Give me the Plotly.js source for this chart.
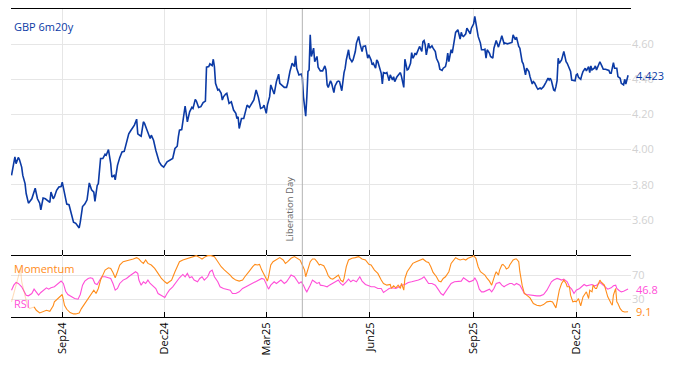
<!DOCTYPE html>
<html><head><meta charset="utf-8">
<script src="https://cdn.plot.ly/plotly-3.0.1.min.js"></script>
<style>html,body{margin:0;padding:0;background:#fff}#chart{width:674px;height:366px}</style>
</head><body><div id="chart"></div>
<script>
// Day offsets are counted from 2024-07-17
const START = Date.UTC(2024, 6, 17);
const toDate = d => new Date(START + d * 86400000).toISOString().slice(0, 10);

const seriesName = "GBP 6m20y";
const eventDate = "2025-04-02";
const eventLabel = "Liberation Day";

const mainDays = [
1,4,5,7,8,10,11,13,14,16,
19,22,24,26,27,29,31,33,35,36,
38,39,41,43,45,46,48,50,52,54,
56,58,61,62,64,66,68,70,72,74,
75,77,78,80,82,84,85,87,89,90,
92,93,95,97,99,101,103,105,107,110,
112,113,115,116,118,119,121,122,124,125,
127,129,130,132,134,136,139,141,144,146,
148,149,150,152,153,155,157,159,161,162,
164,165,167,169,171,173,174,176,177,179,
180,181,182,184,185,187,188,189,191,192,
194,196,198,200,201,202,203,205,207,208,
210,212,214,216,218,220,222,224,225,227,
228,230,231,233,234,236,238,239,241,243,
245,246,248,249,250,252,253,254,255,256,
258,259,260,261,262,263,264,265,266,267,
269,270,272,273,275,277,279,280,281,282,
284,285,286,287,288,290,291,292,294,295,
296,297,298,300,301,303,304,306,307,309,
310,312,313,315,316,317,318,320,321,322,
324,325,326,328,329,330,331,333,334,335,
336,337,339,340,341,343,344,346,347,348,
349,350,352,353,355,356,357,358,359,360,
362,363,365,366,367,368,369,371,372,373,
374,375,377,378,380,381,383,384,386,387,
388,389,391,392,393,394,395,397,398,399,
400,401,402,404,405,406,408,409,411,412,
413,414,415,417,418,420,421,422,423,425,
426,428,429,431,432,433,435,436,438,439,
441,443,445,446,448,449,450,451,452,454,
455,457,458,460,461,463,464,465,467,468,
470,471,473,474,475,477,478,479,480,482,
483,484,485,486,487,489,490,491,492,493,
494,496,497,498,499,501,502,503,504,506,
507,508,510,511,513,514,515,516,518,519,
520,522,523,525,526,528,529,531,532,533,
535,536,538,539,541,542,544,545,546,547,
548];
const mainVals = [
3.853,3.958,3.92,3.955,3.943,3.90,3.853,3.806,3.75,3.695,
3.72,3.78,3.72,3.695,3.657,3.724,3.72,3.707,3.70,3.758,
3.72,3.73,3.768,3.787,3.79,3.815,3.758,3.69,3.686,3.634,
3.587,3.58,3.554,3.587,3.676,3.69,3.714,3.81,3.771,3.758,
3.705,3.796,3.806,3.949,3.949,3.973,3.968,4.00,3.92,3.844,
3.853,3.828,3.91,3.954,3.987,3.99,4.034,4.09,4.11,4.139,
4.173,4.09,4.08,4.076,4.158,4.149,4.114,4.095,4.063,4.082,
4.053,3.996,3.977,3.93,3.91,3.90,3.93,3.939,3.949,4.006,
4.019,4.072,4.11,4.114,4.171,4.248,4.158,4.215,4.24,4.234,
4.286,4.276,4.24,4.244,4.267,4.276,4.469,4.472,4.488,4.478,
4.514,4.472,4.377,4.339,4.343,4.32,4.282,4.30,4.316,4.32,
4.263,4.272,4.225,4.206,4.177,4.187,4.12,4.177,4.177,4.209,
4.253,4.24,4.263,4.282,4.339,4.297,4.234,4.24,4.253,4.206,
4.253,4.301,4.368,4.324,4.316,4.387,4.429,4.377,4.368,4.354,
4.354,4.377,4.444,4.472,4.491,4.472,4.533,4.463,4.444,4.425,
4.43,4.411,4.30,4.24,4.19,4.30,4.444,4.453,4.653,4.53,
4.577,4.50,4.53,4.469,4.448,4.448,4.476,4.453,4.368,4.354,
4.392,4.377,4.343,4.324,4.362,4.387,4.39,4.387,4.335,4.396,
4.438,4.463,4.51,4.568,4.52,4.50,4.51,4.558,4.606,4.644,
4.606,4.558,4.587,4.59,4.549,4.52,4.539,4.51,4.482,4.491,
4.463,4.51,4.50,4.463,4.434,4.373,4.438,4.434,4.438,4.415,
4.392,4.425,4.396,4.415,4.387,4.415,4.425,4.438,4.415,4.387,
4.354,4.514,4.453,4.457,4.491,4.552,4.52,4.53,4.549,4.539,
4.571,4.587,4.558,4.615,4.621,4.596,4.539,4.606,4.577,4.587,
4.59,4.577,4.558,4.52,4.491,4.457,4.45,4.463,4.472,4.50,
4.549,4.50,4.568,4.549,4.587,4.625,4.667,4.682,4.659,4.629,
4.667,4.648,4.644,4.659,4.691,4.678,4.659,4.691,4.716,4.758,
4.71,4.667,4.644,4.606,4.568,4.568,4.571,4.52,4.568,4.549,
4.53,4.52,4.577,4.621,4.602,4.583,4.625,4.648,4.602,4.606,
4.602,4.606,4.61,4.653,4.625,4.64,4.606,4.587,4.577,4.50,
4.488,4.425,4.463,4.444,4.415,4.373,4.387,4.381,4.354,4.343,
4.35,4.345,4.358,4.373,4.381,4.406,4.396,4.406,4.392,4.339,
4.335,4.358,4.392,4.52,4.491,4.51,4.533,4.558,4.53,4.50,
4.491,4.463,4.444,4.396,4.396,4.392,4.425,4.43,4.411,4.40,
4.425,4.444,4.463,4.448,4.472,4.438,4.476,4.453,4.463,4.476,
4.453,4.488,4.50,4.472,4.457,4.457,4.453,4.45,4.434,4.434,
4.495,4.463,4.463,4.415,4.406,4.377,4.368,4.40,4.373,4.406,
4.423];

const momDays = [
1,4,7,9,10,13,15,17,20,21,
23,26,29,32,35,38,39,42,45,46,
48,50,53,56,58,61,63,66,69,72,
74,76,78,80,82,84,87,89,91,93,
95,97,100,103,106,109,112,114,116,118,
120,122,125,128,131,134,137,139,141,143,
146,148,150,153,156,159,162,165,168,170,
173,175,178,181,183,185,187,190,192,195,
197,200,203,206,208,210,212,215,217,219,
221,223,226,228,229,231,233,236,239,242,
244,246,249,252,255,257,259,261,262,264,
266,268,270,272,274,275,278,280,282,284,
286,289,291,293,295,296,298,300,303,306,
309,312,315,318,320,323,326,329,331,334,
337,338,340,342,344,346,347,349,350,352,
355,357,360,363,366,369,371,373,375,378,
380,382,384,386,389,391,393,395,397,399,
402,404,406,408,410,411,413,415,417,419,
421,423,425,427,428,430,431,433,434,436,
437,439,440,442,443,445,446,448,449,451,
452,454,456,458,461,464,467,470,473,476,
479,481,483,484,485,487,489,491,493,494,
496,497,499,501,502,504,506,508,510,511,
513,514,516,517,519,520,523,524,527,528,
530,533,534,535,537,538,539,541,543,545,
548];
const momVals = [
25.6,47.8,70,81,59,36.7,20,14.4,17,17.2,
11.7,7.2,8.9,11.7,10,18.9,25.6,31.1,36.7,37.8,
20,13.3,7.8,5.6,5.6,7.2,14.4,22.8,31.1,39.4,
45,39.4,47.8,61.7,70,78.3,82.2,81.1,74.4,65.6,
75.6,86.7,92.2,93.3,95,96.7,98.9,96.7,92.2,89.4,
95,89.4,86.7,81.1,72.8,64.4,58.9,56.1,58.9,61.7,
75.6,83.9,92.2,95,96.7,98.9,100.6,102.2,98.9,96.7,
100.6,102.2,102.2,100.6,95,89.4,83.9,78.3,75.6,70,
65.6,61.7,60,61.7,67.2,72.8,76.7,83.9,87.8,86.7,
87.8,78.3,67.2,60,67.2,86.7,92.2,95,98.9,95,
89.4,92.2,97.8,100.6,97.8,95,86.7,78.3,67.2,78.3,
92.2,96.7,96.7,92.2,86.7,87.8,85.6,78.3,68.9,64.4,
63.3,67.2,70,61.7,58.9,64.4,83.9,95,97.8,98.9,
100.6,96.7,95,87.8,86.7,78.3,72.8,61.7,56.1,53.3,
54.4,47.8,52.2,48.9,53.3,47.8,56.1,45,64.4,75.6,
83.9,89.4,92.2,95,96.7,92.2,91.1,83.9,74.4,67.2,
60,58.9,64.4,67.2,75.6,89.4,95,98.9,96.7,95,
96.7,95,97.8,98.9,100.6,102.2,97.8,83.9,75.6,72.8,
70,64.4,60,53.3,60,71.1,75.6,70,78.3,86.7,
87.8,83.9,80,82.2,86.7,92.2,95,96.7,96.7,92.2,
75.6,53.3,39.4,36.7,32.2,22.8,20,18.9,21.1,25.6,
26.7,25.6,17.2,15.6,25.6,45,56.1,61.7,56.1,50.6,
50.6,36.7,25.6,26.7,25.6,31.1,18.9,33.9,39.4,42.2,
31.1,45,42.2,53.3,47.8,47.8,61.7,58.9,53.3,45,
33.9,22.8,20,36.7,47.8,25.6,22.8,14.4,10,8.9,
9.1];

const rsiDays = [
1,3,5,7,10,12,14,16,19,21,
23,25,27,30,32,34,36,39,42,45,
47,49,51,54,57,60,62,64,66,69,
71,73,75,77,79,81,84,87,89,91,
93,95,97,100,103,106,109,111,113,114,
116,118,120,122,124,126,129,131,134,137,
139,141,144,147,150,153,155,157,159,161,
163,166,168,170,172,175,177,179,181,184,
186,189,192,195,197,200,203,206,209,212,
215,218,220,223,225,227,229,231,234,236,
238,240,243,245,247,249,252,254,256,258,
260,262,263,266,268,270,272,274,275,278,
281,283,286,289,291,293,295,298,300,302,
304,307,309,310,312,315,318,320,323,326,
329,331,334,336,339,342,345,347,350,353,
356,359,362,365,367,369,371,374,377,380,
382,384,386,389,391,394,397,400,402,405,
407,409,411,412,414,416,418,420,423,425,
427,429,431,434,436,438,440,443,445,447,
449,452,454,456,458,461,464,467,470,473,
476,478,480,482,485,487,489,491,494,496,
498,500,502,505,507,509,511,514,516,518,
520,523,525,527,528,530,533,535,537,538,
540,542,544,546,548];
const rsiVals = [
45,53.3,57.8,56.1,50.6,42.2,36.7,35.6,39.4,46.7,
42.2,36.7,41.1,46.7,48.9,46.7,48.9,50.6,56.1,60,
56.1,43.3,37.8,33.9,31.1,30,37.8,53.3,60,64.4,
65.6,64.4,56.1,54.4,61.7,67.2,67.2,65.6,64.4,56.1,
45,47.8,56.1,61.7,64.4,68.9,72.8,75.6,72.8,61.7,
53.3,58.9,56.1,61.7,56.1,53.3,47.8,39.4,36.7,32.8,
39.4,45,50.6,58.9,65.6,71.1,67.2,72.8,65.6,67.2,
61.7,58.9,64.4,67.2,61.7,67.2,75.6,78.3,67.2,58.9,
50.6,47.8,46.7,45,39.4,39.4,42.2,47.8,50.6,53.3,
56.1,58.9,61.7,64.4,63.3,53.3,46.7,53.3,58.9,56.1,
58.9,61.7,56.1,58.9,64.4,70,67.2,61.7,56.1,58.9,
53.3,45,42.2,53.3,61.7,58.9,56.1,57.8,53.3,52.2,
50.6,53.3,56.1,58.9,61.7,56.1,53.3,58.9,63.3,58.9,
61.7,58.9,64.4,67.2,60,54.4,52.2,50.6,50.6,47.8,
47.8,41.1,45,47.8,48.9,47.8,50.6,53.3,54.4,57.8,
58.9,60,61.7,64.4,67.2,61.7,56.1,56.1,53.3,45,
39.4,36.7,42.2,50.6,56.1,58.9,60,60,65.6,61.7,
58.9,60,61.7,65.6,58.9,46.7,42.2,42.2,45,46.7,
42.2,47.8,56.1,57.8,53.3,50.6,53.3,56.1,56.1,53.3,
56.1,53.3,46.7,39.4,37.8,36.7,35.6,35.6,35.6,37.8,
45,53.3,58.9,61.7,64.4,63.3,61.7,63.3,58.9,50.6,
46.7,39.4,45,47.8,50.6,54.4,52.2,53.3,54.4,52.2,
53.3,57.8,54.4,52.2,48.9,46.7,48.9,52.2,53.3,47.8,
44.4,42.2,43.3,45,46.8];

const warmupEnd = 21; // momentum warm-up (drawn faint)

const C_MAIN = "#0b3aa5", C_MOM = "#ff8c1a", C_RSI = "#ff4fd8";
const FONT = "Open Sans, Noto Sans, sans-serif";

const momWarm = momDays.map((d,i)=>[d,momVals[i]]).filter(p=>p[0]<=warmupEnd);
const momMain = momDays.map((d,i)=>[d,momVals[i]]).filter(p=>p[0]>=warmupEnd);

const traces = [
  {x: mainDays.map(toDate), y: mainVals, xaxis:'x', yaxis:'y', type:'scatter', mode:'lines',
   line:{color:C_MAIN, width:1.6}, hoverinfo:'skip'},
  {x: rsiDays.map(toDate), y: rsiVals, xaxis:'x2', yaxis:'y2', type:'scatter', mode:'lines',
   line:{color:C_RSI, width:1.1}, hoverinfo:'skip'},
  {x: momWarm.map(p=>toDate(p[0])), y: momWarm.map(p=>p[1]), xaxis:'x2', yaxis:'y2', type:'scatter', mode:'lines',
   line:{color:'rgba(255,140,26,0.3)', width:1.1}, hoverinfo:'skip'},
  {x: momMain.map(p=>toDate(p[0])), y: momMain.map(p=>p[1]), xaxis:'x2', yaxis:'y2', type:'scatter', mode:'lines',
   line:{color:C_MOM, width:1.1}, hoverinfo:'skip'}
];

const xRange = ['2024-07-17 12:45', '2026-01-18 14:24'];
const split = 0.2013;
const xBase = {type:'date', range:xRange, tick0:'2024-09-01', dtick:'M3', ticks:'inside', ticklen:5,
  tickcolor:'#000', showline:true, linecolor:'#000', linewidth:1,
  showgrid:true, gridcolor:'#e6e6e6', zeroline:false};
const yBase = {side:'right', showgrid:true, gridcolor:'#e6e6e6', zeroline:false, showline:false,
  ticks:'', tickfont:{family:FONT, size:11, color:'#d2d2d2'}};

const topTicks = [3.6,3.8,4.0,4.2,4.4,4.6];
const lowTicks = [30,70];

const layout = {
  width:674, height:366, margin:{l:11, r:43, t:9, b:49},
  paper_bgcolor:'#fff', plot_bgcolor:'#fff', showlegend:false,
  font:{family:FONT, size:11, color:'#000'},
  xaxis: Object.assign({}, xBase, {anchor:'y', showticklabels:false, mirror:true}),
  xaxis2: Object.assign({}, xBase, {anchor:'y2', showticklabels:true, mirror:false, tickformat:'%b%y', tickangle:-90,
    tickfont:{family:FONT, size:11, color:'#000'}}),
  yaxis: Object.assign({}, yBase, {domain:[split,1], anchor:'x', range:[3.40,4.80],
    tickvals:topTicks, ticktext:topTicks.map(v=>v.toFixed(2))}),
  yaxis2: Object.assign({}, yBase, {domain:[0,split], anchor:'x2', range:[0.5,103.3],
    tickvals:lowTicks, ticktext:lowTicks.map(String)}),
  shapes:[{type:'line', xref:'x', yref:'paper', x0:eventDate, x1:eventDate, y0:0, y1:1,
    line:{color:'#b4b4b4', width:1}}],
  annotations:[
    {xref:'paper', yref:'paper', x:0, y:1, xanchor:'left', yanchor:'top', xshift:1, yshift:-8,
     text:seriesName, showarrow:false, font:{family:FONT, size:11, color:C_MAIN}},
    {xref:'paper', yref:'y2 domain', x:0, y:1, xanchor:'left', yanchor:'top', xshift:1, yshift:-4,
     text:'Momentum', showarrow:false, font:{family:FONT, size:11, color:C_MOM}},
    {xref:'paper', yref:'y2 domain', x:0, y:0, xanchor:'left', yanchor:'bottom', xshift:1, yshift:4,
     text:'RSI', showarrow:false, font:{family:FONT, size:11, color:C_RSI}},
    {xref:'paper', yref:'y', x:1, y:mainVals[mainVals.length-1], xanchor:'left', yanchor:'middle', xshift:3,
     text:mainVals[mainVals.length-1].toFixed(3), showarrow:false, font:{family:FONT, size:11, color:C_MAIN}},
    {xref:'paper', yref:'y2', x:1, y:rsiVals[rsiVals.length-1], xanchor:'left', yanchor:'middle', xshift:3,
     text:rsiVals[rsiVals.length-1].toFixed(1), showarrow:false, font:{family:FONT, size:11, color:C_RSI}},
    {xref:'paper', yref:'y2', x:1, y:momVals[momVals.length-1], xanchor:'left', yanchor:'middle', xshift:3,
     text:momVals[momVals.length-1].toFixed(1), showarrow:false, font:{family:FONT, size:11, color:C_MOM}},
    {xref:'x', yref:'y', x:eventDate, y:3.465, xanchor:'center', yanchor:'bottom', xshift:-13, textangle:-90,
     text:eventLabel, showarrow:false, font:{family:FONT, size:9.5, color:'#666'}}
  ]
};

Plotly.newPlot('chart', traces, layout, {displayModeBar:false, staticPlot:true});
</script>
</body></html>
